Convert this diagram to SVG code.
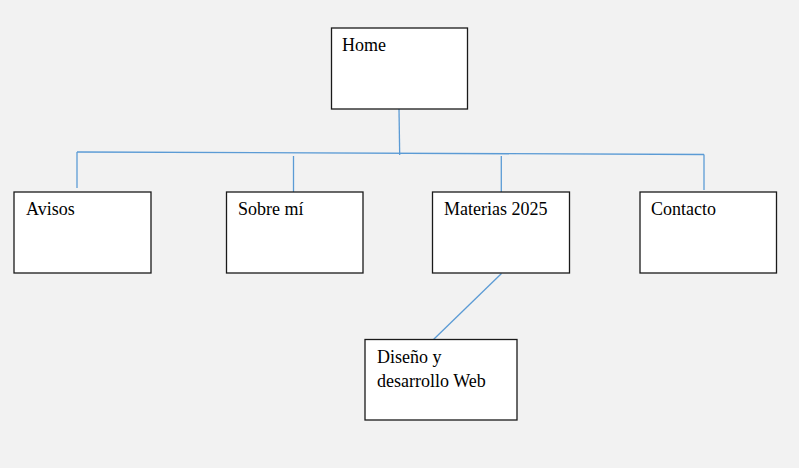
<svg xmlns="http://www.w3.org/2000/svg" width="799" height="468" viewBox="0 0 799 468">
<style>
.box{fill:#ffffff;stroke:#1a1a1a;stroke-width:1.3}
.lbl{font-family:"Liberation Serif","Times New Roman",serif;font-size:18px;fill:#000}
.con{stroke:#5b9bd5;stroke-width:1.3;fill:none}
</style>
<rect x="0" y="0" width="799" height="468" fill="#f2f2f2"/>
<g id="connectors">
<line class="con" x1="399" y1="109" x2="399.7" y2="155"/>
<line class="con" x1="77" y1="152" x2="704" y2="154.5"/>
<line class="con" x1="77" y1="152" x2="77" y2="188"/>
<line class="con" x1="293.5" y1="156" x2="293.5" y2="192"/>
<line class="con" x1="501.3" y1="156" x2="501.3" y2="192"/>
<line class="con" x1="704" y1="154.5" x2="704" y2="190"/>
<line class="con" x1="501.5" y1="273.5" x2="433.5" y2="339.5"/>
</g>
<g id="home">
<rect class="box" x="331.5" y="28" width="136" height="81"/>
<text class="lbl" x="342" y="51">Home</text>
</g>
<g id="avisos">
<rect class="box" x="14" y="192" width="137" height="81"/>
<text class="lbl" x="26" y="215">Avisos</text>
</g>
<g id="sobre">
<rect class="box" x="226.5" y="192" width="136.5" height="81"/>
<text class="lbl" x="238" y="215">Sobre mí</text>
</g>
<g id="materias">
<rect class="box" x="432.5" y="192" width="137" height="81"/>
<text class="lbl" x="444" y="215">Materias 2025</text>
</g>
<g id="contacto">
<rect class="box" x="640" y="192" width="136.5" height="81"/>
<text class="lbl" x="651" y="215">Contacto</text>
</g>
<g id="diseno">
<rect class="box" x="365" y="339.5" width="152" height="80.5"/>
<text class="lbl" x="377" y="363">Diseño y</text>
<text class="lbl" x="377" y="386.5">desarrollo Web</text>
</g>
</svg>
